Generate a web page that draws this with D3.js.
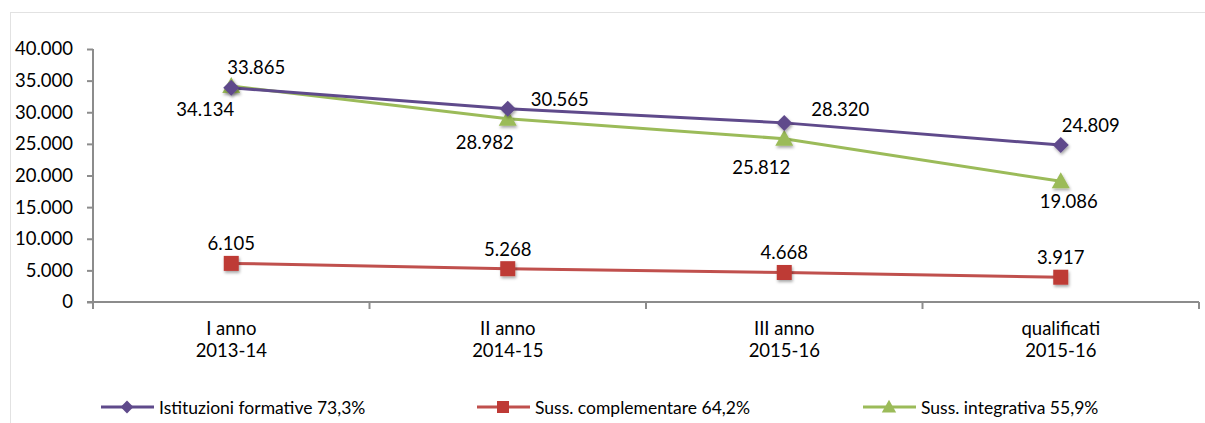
<!DOCTYPE html>
<html><head><meta charset="utf-8">
<script src="https://cdn.jsdelivr.net/npm/d3@7"></script>
<style>body{margin:0;background:#fff}svg{display:block;font-family:Lato,"Open Sans",sans-serif}</style>
</head><body>
<svg id="c" width="1205" height="423"></svg>
<script>
const categories = [["I anno","2013-14"],["II anno","2014-15"],["III anno","2015-16"],["qualificati","2015-16"]];
const istituzioni = [33865, 30565, 28320, 24809];
const complementare = [6105, 5268, 4668, 3917];
const integrativa = [34134, 28982, 25812, 19086];
const seriesNames = ["Istituzioni formative 73,3%","Suss. complementare 64,2%","Suss. integrativa 55,9%"];
const yTicks = [0,5000,10000,15000,20000,25000,30000,35000,40000];

(function(){
const fmt = d3.formatLocale({decimal:",",thousands:".",grouping:[3],currency:["",""]}).format(",d");
const svg = d3.select("#c");
const defs = svg.append("defs");
const f = defs.append("filter").attr("id","sh").attr("x","-50%").attr("y","-50%").attr("width","200%").attr("height","200%");
f.append("feDropShadow").attr("dx",1).attr("dy",2).attr("stdDeviation",1.5).attr("flood-color","#000").attr("flood-opacity",0.35);

svg.append("rect").attr("x",10.5).attr("y",12.5).attr("width",1205).attr("height",430)
  .attr("fill","none").attr("stroke","#e2e2e2");

const pl=93, pr=1199, pt=49, pb=302;
const FS=18.5;
const x = d3.scaleBand().domain(d3.range(categories.length)).range([pl,pr]);
const y = d3.scaleLinear().domain([0,40000]).range([pb,pt]);
const cx = i => x(i)+x.bandwidth()/2;

// y axis
const ya = svg.append("g").attr("transform",`translate(${pl},0)`)
  .call(d3.axisLeft(y).tickValues(yTicks).tickSize(6).tickPadding(14).tickFormat(fmt));
ya.selectAll("path,line").attr("stroke","#8c8c8c").attr("stroke-width",2);
ya.select("path").attr("d",`M0,${pt}V${pb}`);
ya.selectAll("text").attr("font-size",FS).attr("fill","#000").attr("font-family","Lato");

// x axis
const xa = svg.append("g").attr("transform",`translate(0,${pb})`);
xa.append("line").attr("x1",pl-6).attr("x2",pr).attr("stroke","#8c8c8c").attr("stroke-width",2);
const bounds = d3.range(categories.length+1).map(i => i<categories.length ? x(i) : pr);
xa.selectAll("line.t").data(bounds).join("line").attr("class","t")
  .attr("x1",d=>d).attr("x2",d=>d).attr("y1",0).attr("y2",7).attr("stroke","#8c8c8c").attr("stroke-width",2);
const xl = xa.selectAll("text").data(categories).join("text")
  .attr("text-anchor","middle").attr("font-size",FS).attr("fill","#000")
  .attr("transform",(d,i)=>`translate(${cx(i)},0)`);
xl.append("tspan").attr("x",0).attr("y",33).text(d=>d[0]);
xl.append("tspan").attr("x",0).attr("y",55).text(d=>d[1]);

const series = [
  {vals:istituzioni,color:"#5F4A8B",marker:"diamond"},
  {vals:complementare,color:"#C0504D",mcolor:"#BE3A36",marker:"square"},
  {vals:integrativa,color:"#9BBB59",marker:"triangle"}
];
function marker(g,type,color){
  if(type==="diamond") g.append("path").attr("d","M0,-8L8,0L0,8L-8,0Z").attr("fill",color);
  else if(type==="square") g.append("rect").attr("x",-7.5).attr("y",-7.5).attr("width",15).attr("height",15).attr("fill",color);
  else g.append("path").attr("d","M0,-9L9,7L-9,7Z").attr("fill",color);
}
const line = d3.line().x((d,i)=>cx(i)).y(d=>y(d));
[2,0,1].forEach(si=>{
  const s=series[si];
  svg.append("path").datum(s.vals).attr("d",line).attr("fill","none").attr("stroke",s.color).attr("stroke-width",3);
});
[2,0,1].forEach(si=>{
  const s=series[si];
  s.vals.forEach((v,i)=>{
    const g=svg.append("g").attr("transform",`translate(${cx(i)},${y(v)})`).attr("filter","url(#sh)");
    marker(g,s.marker,s.mcolor||s.color);
  });
});

// labels
const lab = (xx,yy,t)=>svg.append("text").attr("x",xx).attr("y",yy).attr("text-anchor","middle")
  .attr("dominant-baseline","central").attr("font-size",FS).attr("fill","#000").text(t);
const purpleOff=[[25,-21],[52,-10],[56,-14],[30,-20]];
const greenOff=[[-26,23],[-23,23],[-23,28],[8,20]];
istituzioni.forEach((v,i)=>lab(cx(i)+purpleOff[i][0],y(v)+purpleOff[i][1],fmt(v)));
integrativa.forEach((v,i)=>lab(cx(i)+greenOff[i][0],y(v)+greenOff[i][1],fmt(v)));
complementare.forEach((v,i)=>lab(cx(i),y(v)-20,fmt(v)));

// legend
const legX=[101,477,863];
series.forEach((s,i)=>{
  const g=svg.append("g").attr("transform",`translate(${legX[i]},407)`);
  g.append("line").attr("x1",0).attr("x2",53).attr("stroke",s.color).attr("stroke-width",3);
  const m=g.append("g").attr("transform","translate(26,0) scale(0.8)");
  marker(m,s.marker,s.mcolor||s.color);
  g.append("text").attr("x",58).attr("y",0).attr("dominant-baseline","central").attr("font-size",17.5).attr("fill","#000").text(seriesNames[i]);
});
})();
</script>
</body></html>
